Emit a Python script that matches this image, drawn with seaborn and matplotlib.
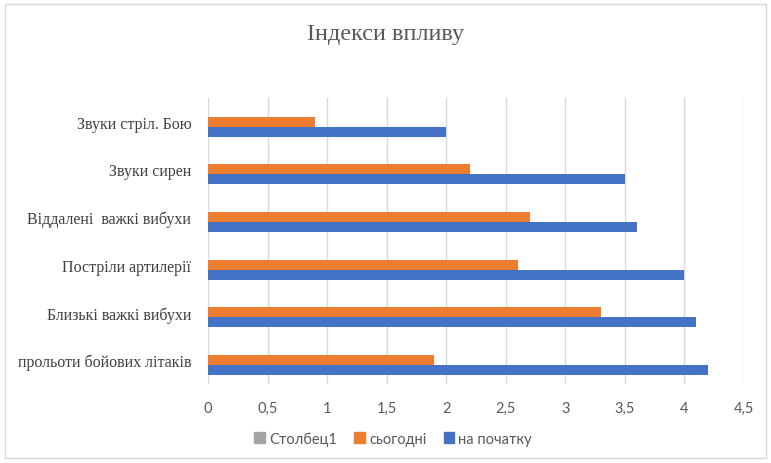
import pandas as pd
import numpy as np
import seaborn as sns
import matplotlib.pyplot as plt
from matplotlib.patches import Patch, Rectangle
from matplotlib.ticker import FuncFormatter, MultipleLocator

categories = ['Звуки стріл. Бою', 'Звуки сирен', 'Віддалені  важкі вибухи',
              'Постріли артилерії', 'Близькі важкі вибухи', 'прольоти бойових літаків']
col1 = [0, 0, 0, 0, 0, 0]  # empty series in the source table
today = [0.9, 2.2, 2.7, 2.6, 3.3, 1.9]
at_start = [2.0, 3.5, 3.6, 4.0, 4.1, 4.2]
series_names = ['Столбец1', 'сьогодні', 'на початку']
colors = ['#a5a5a5', '#ed7d31', '#4472c4']

df = pd.DataFrame({
    'cat': categories * 3,
    'val': col1 + today + at_start,
    'series': ['Столбец1'] * 6 + ['сьогодні'] * 6 + ['на початку'] * 6,
})

sns.set_style('white')
plt.rcParams['font.family'] = ['Lato', 'DejaVu Sans']

fig = plt.figure(figsize=(7.71, 4.64), dpi=100)
ax = fig.add_axes([0.2698, 0.1703, 0.6952, 0.6164])

sns.barplot(data=df, x='val', y='cat', hue='series', order=categories,
            hue_order=series_names, palette=colors,
            width=0.63, orient='h', ax=ax, legend=False, saturation=1,
            errorbar=None, linewidth=0)

ax.set_xlim(0, 4.5)
ax.xaxis.set_major_locator(MultipleLocator(0.5))
ax.xaxis.set_major_formatter(FuncFormatter(lambda v, p: ('%g' % v).replace('.', ',')))
ax.grid(axis='x', color='#d9d9d9', lw=1)
ax.set_axisbelow(True)
for s in ax.spines.values():
    s.set_visible(False)
ax.tick_params(axis='both', length=0)
ax.tick_params(axis='x', labelsize=10.5, labelcolor='#595959', pad=12)
ax.set_xlabel('')
ax.set_ylabel('')
for lbl in ax.get_yticklabels():
    lbl.set_family('Liberation Serif')
    lbl.set_fontsize(11.5)
    lbl.set_color('#404040')
ax.tick_params(axis='y', pad=12)

fig.text(0.5, 0.925, 'Індекси впливу', ha='center', va='center',
         family='Liberation Serif', fontsize=17.5, color='#595959')

handles = [Patch(color=c) for c in colors]
fig.legend(handles, series_names, loc='center', bbox_to_anchor=(0.51, 0.053),
           ncol=3, frameon=False, fontsize=10.5, labelcolor='#595959',
           handlelength=0.7, handleheight=0.7, handletextpad=0.3, columnspacing=1.2)

fig.patches.append(Rectangle((0.006, 0.01), 0.988, 0.98, transform=fig.transFigure,
                             fill=False, edgecolor='#d9d9d9', lw=1))

plt.savefig('out.png', dpi=100)
